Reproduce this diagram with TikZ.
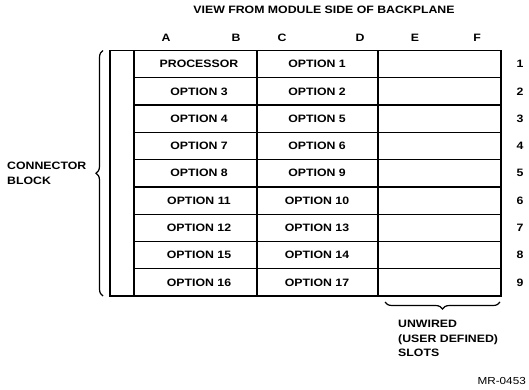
\documentclass[tikz,border=0pt]{standalone}
\usepackage{fontspec}
\setmainfont{Liberation Sans}[FakeStretch=1.15]
\usetikzlibrary{decorations.pathreplacing}
\begin{document}
\begin{tikzpicture}[x=1pt,y=-1pt,
  txt/.style={inner sep=0pt, font=\fontsize{10.7pt}{15pt}\selectfont\bfseries},
  frame/.style={line width=1.9pt},
  grid/.style={line width=1.3pt},
  bracestyle/.style={line width=1.2pt, decorate, decoration={brace, amplitude=7pt}}]
\useasboundingbox (0,0) rectangle (529,389);
% title
\node[txt] (title) at (324,10) {VIEW FROM MODULE SIDE OF BACKPLANE};
% column letters
\foreach \l/\x in {A/166, B/236, C/282, D/360, E/415, F/477}
  \node[txt] (col\l) at (\x,38) {\l};
% grid
\def\rtop{50.5}
\def\rh{27.28}
\draw[grid] (134,\rtop) -- (134,296);
\draw[grid] (257,\rtop) -- (257,296);
\draw[grid] (378,\rtop) -- (378,296);
\foreach \i in {1,...,8}
  \draw[grid] (134,{\rtop+\i*\rh}) -- (501,{\rtop+\i*\rh});
\draw[frame] (110,\rtop) rectangle (501,296);
% cells
\foreach \a/\b [count=\i] in {PROCESSOR/OPTION 1, OPTION 3/OPTION 2, OPTION 4/OPTION 5,
  OPTION 7/OPTION 6, OPTION 8/OPTION 9, OPTION 11/OPTION 10, OPTION 12/OPTION 13,
  OPTION 15/OPTION 14, OPTION 16/OPTION 17} {
  \node[txt] (a\i) at (199,{\rtop+(\i-0.5)*\rh}) {\a};
  \node[txt] (b\i) at (317,{\rtop+(\i-0.5)*\rh}) {\b};
  \node[txt] (n\i) at (520,{\rtop+(\i-0.5)*\rh}) {\i};
}
% left brace
\coordinate (lb1) at (103,296);
\coordinate (lb2) at (103,\rtop);
\draw[bracestyle] (lb1) -- (lb2);
\node[txt, anchor=west, align=left] (conn) at (7,173) {CONNECTOR\\BLOCK};
% bottom brace
\coordinate (bb1) at (500,302);
\coordinate (bb2) at (385,302);
\draw[bracestyle] (bb1) -- (bb2);
\node[txt, anchor=north west, align=left, font=\fontsize{10.7pt}{14.6pt}\selectfont\bfseries] (unw) at (398,320) {UNWIRED\\(USER DEFINED)\\SLOTS};
% figure id
\node[inner sep=0pt, anchor=east, font=\fontsize{10.2pt}{12pt}\selectfont] (mr) at (526,381) {MR-0453};
\end{tikzpicture}
\end{document}
